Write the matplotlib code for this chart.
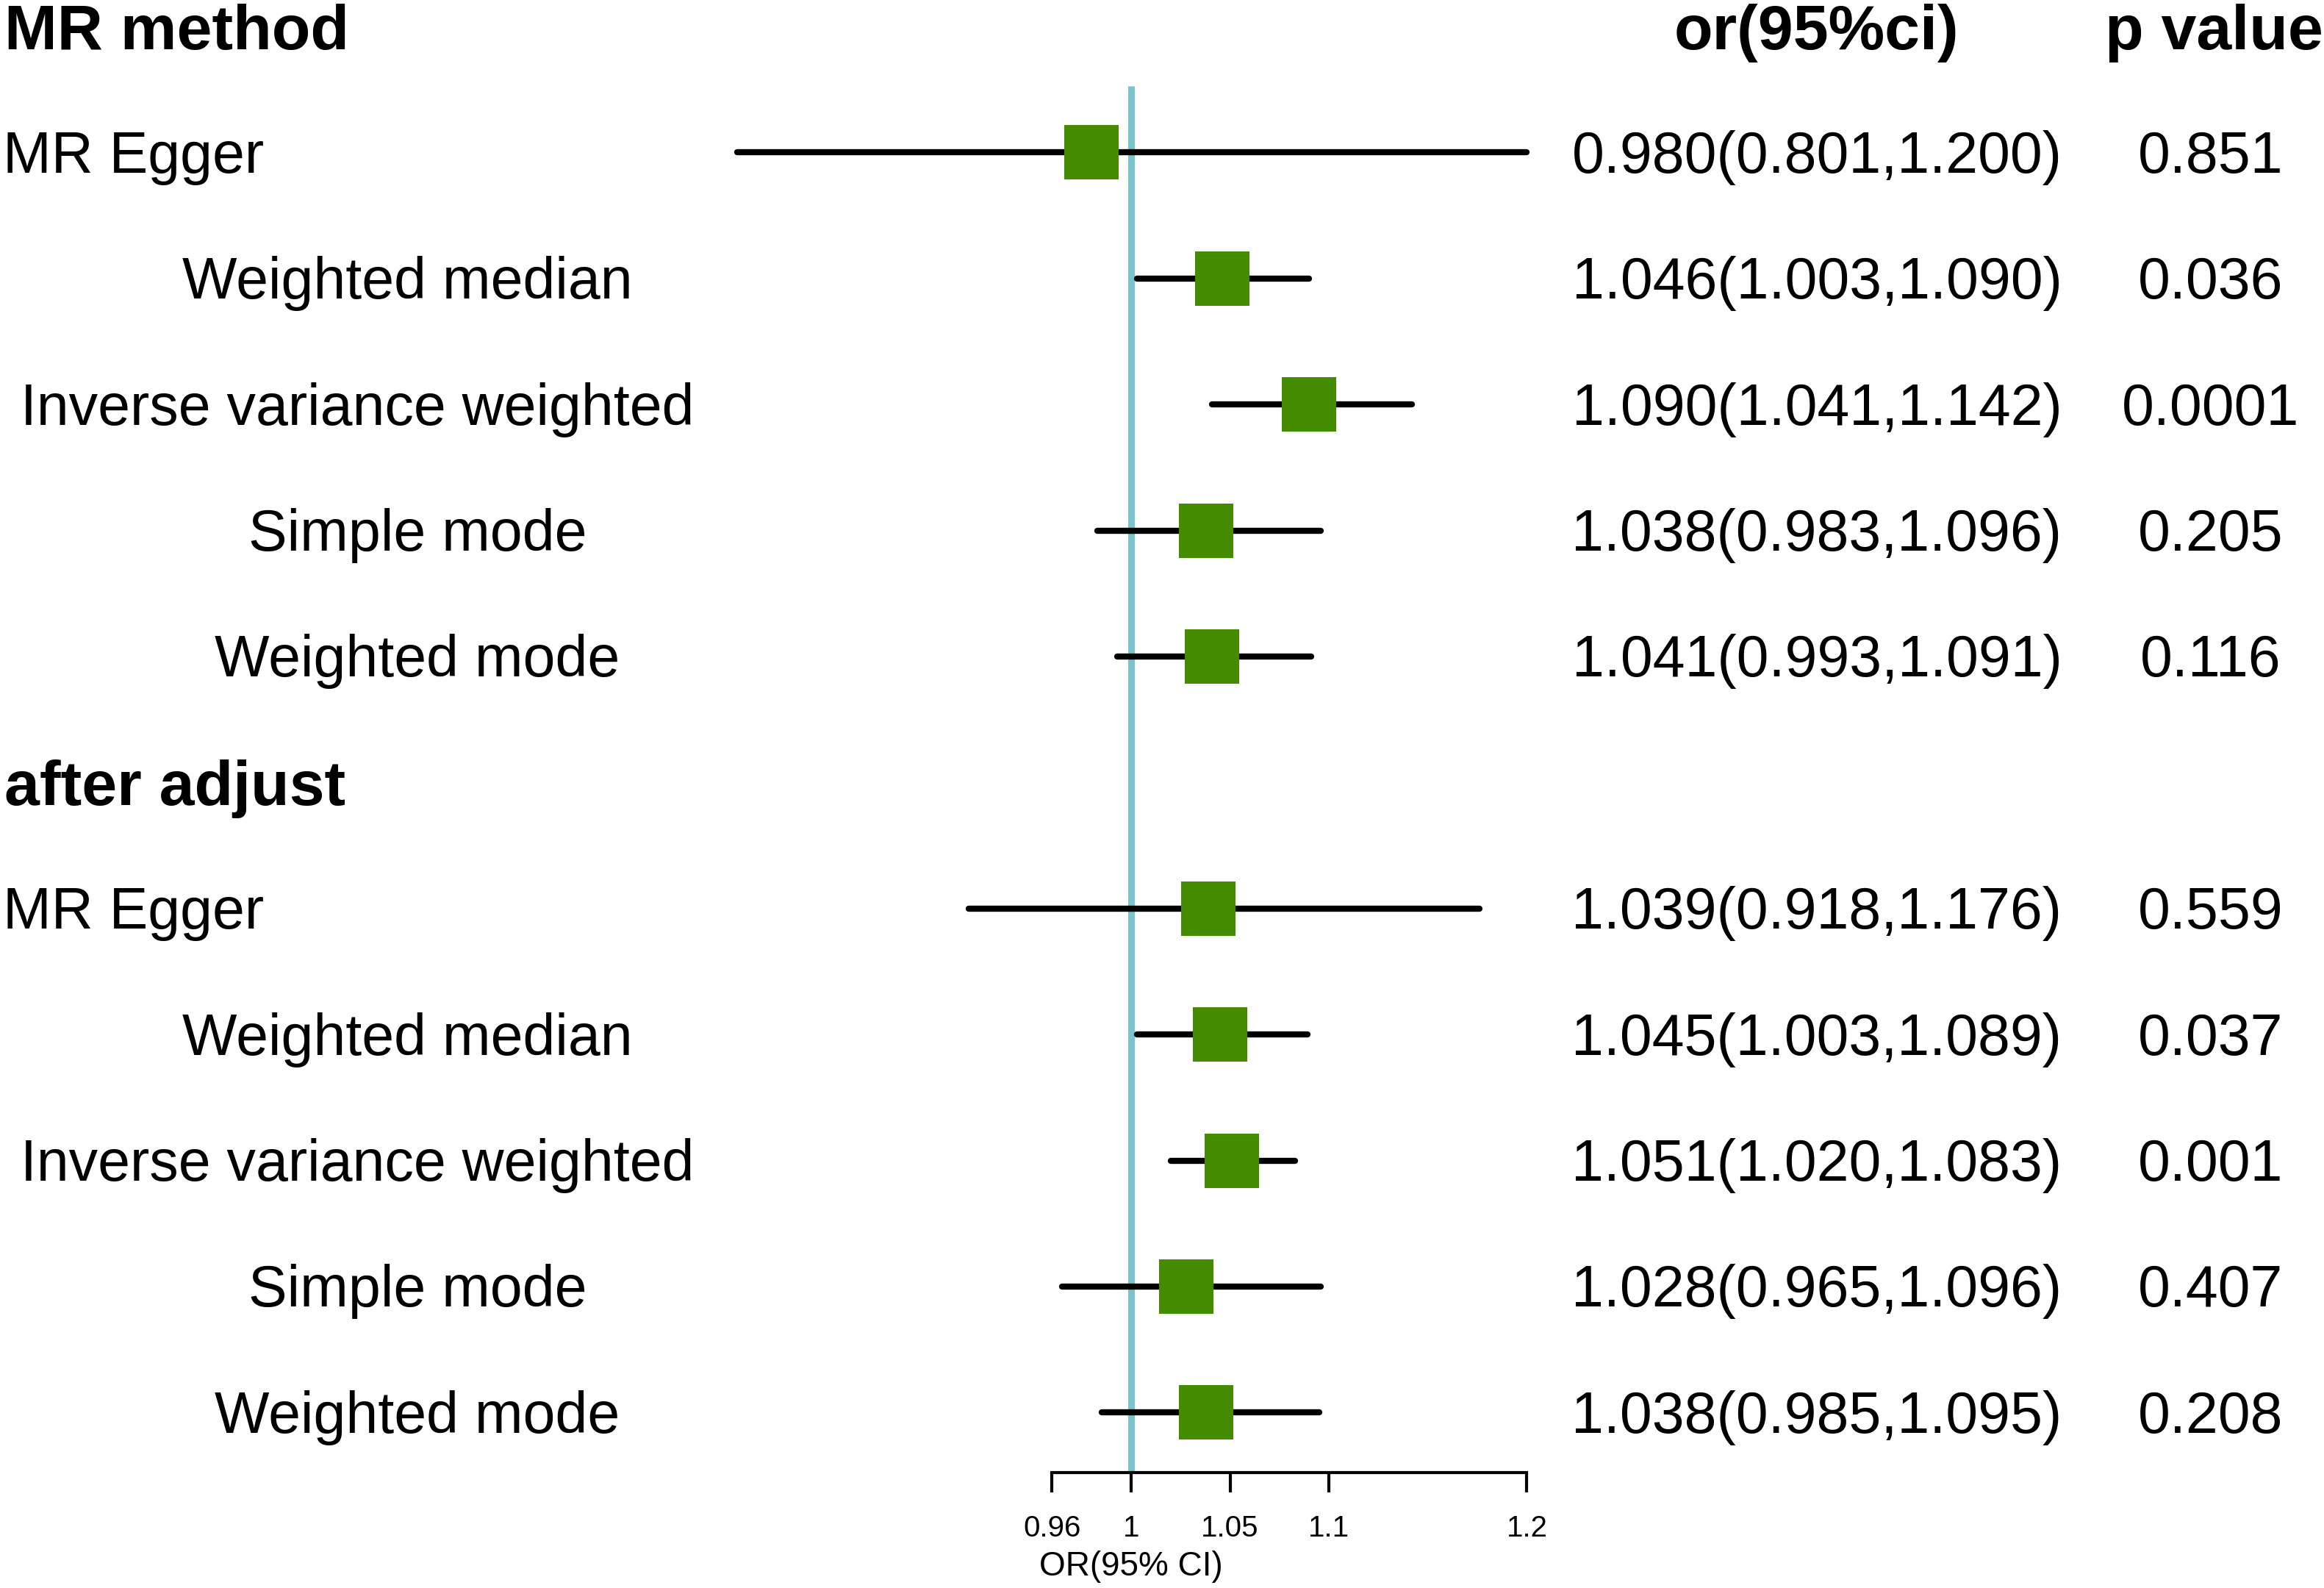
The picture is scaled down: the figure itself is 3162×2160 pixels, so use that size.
import numpy as np
import matplotlib
matplotlib.use('Agg')
import matplotlib.pyplot as plt
from matplotlib.transforms import blended_transform_factory

plt.rcParams['font.family'] = ['Liberation Sans', 'DejaVu Sans']

# datos del forest plot
metodos = ['MR Egger', 'Weighted median', 'Inverse variance weighted',
           'Simple mode', 'Weighted mode']

or_main = [0.980, 1.046, 1.090, 1.038, 1.041]
lo_main = [0.801, 1.003, 1.041, 0.983, 0.993]
hi_main = [1.200, 1.090, 1.142, 1.096, 1.091]
p_main = ['0.851', '0.036', '0.0001', '0.205', '0.116']

or_adj = [1.039, 1.045, 1.051, 1.028, 1.038]
lo_adj = [0.918, 1.003, 1.020, 0.965, 0.985]
hi_adj = [1.176, 1.089, 1.083, 1.096, 1.095]
p_adj = ['0.559', '0.037', '0.001', '0.407', '0.208']

ticks = [0.96, 1, 1.05, 1.1, 1.2]
tick_labels = ['0.96', '1', '1.05', '1.1', '1.2']

# posicion horizontal de cada etiqueta (fraccion de la figura)
label_pos = [('left', 4 / 3162), ('center', 554 / 3162), ('center', 486 / 3162),
             ('center', 568 / 3162), ('center', 568 / 3162)]

W, H = 3162, 2160
fig = plt.figure(figsize=(W / 200, H / 200), dpi=200)
ax = fig.add_axes([0, 0, 1, 1])

# escala: 1 -> 1539 px, 0.01 -> 26.92 px
px = 2692.0
ax.set_xlim(1 - 1539 / px, 1 + (W - 1539) / px)
row = 171.4
ax.set_ylim((H - 36) / row, -36 / row)

axis_y = (2003 - 36) / row
green = '#458B00'
blue = '#7AC5CD'

ax.vlines(1, 0.473, axis_y, color=blue, linewidth=3.3, zorder=1)

filas_main = np.arange(1, 6)
filas_adj = np.arange(7, 12)

trans = blended_transform_factory(ax.transAxes, ax.transData)

for filas, ors, los, his, ps in [(filas_main, or_main, lo_main, hi_main, p_main),
                                 (filas_adj, or_adj, lo_adj, hi_adj, p_adj)]:
    for y, o, l, h, p, name, (ha, xl) in zip(filas, ors, los, his, ps, metodos, label_pos):
        ax.plot([l, h], [y, y], color='black', linewidth=3.0,
                solid_capstyle='round', zorder=2)
        ax.plot(o, y, marker='s', markersize=26.3, color=green,
                markeredgewidth=0, zorder=3)
        ax.text(xl, y + 0.16, name, transform=trans, ha=ha, va='baseline', fontsize=28.4)
        ax.text(2472 / W, y + 0.16, f'{o:.3f}({l:.3f},{h:.3f})', transform=trans,
                ha='center', va='baseline', fontsize=28.4)
        ax.text(3008 / W, y + 0.16, p, transform=trans, ha='center', va='baseline',
                fontsize=28.4)

# encabezados
ax.text(6 / W, 0.18, 'MR method', transform=trans, ha='left', va='baseline',
        fontsize=31, fontweight='bold')
ax.text(6 / W, 6.18, 'after adjust', transform=trans, ha='left', va='baseline',
        fontsize=31, fontweight='bold')
ax.text(2471 / W, 0.18, 'or(95%ci)', transform=trans, ha='center', va='baseline',
        fontsize=31, fontweight='bold')
ax.text(3012 / W, 0.18, 'p value', transform=trans, ha='center', va='baseline',
        fontsize=31, fontweight='bold')

# eje x
for s in ['top', 'left', 'right']:
    ax.spines[s].set_visible(False)
ax.spines['bottom'].set_position(('data', axis_y))
ax.spines['bottom'].set_bounds(0.96, 1.2)
ax.spines['bottom'].set_linewidth(1.5)
ax.set_xticks(ticks)
ax.set_xticklabels(tick_labels)
ax.tick_params(axis='x', direction='out', length=9.7, width=1.5, pad=11, labelsize=14.5)
ax.set_yticks([])
ax.text(1.0, (2143 - 36) / row, 'OR(95% CI)', ha='center', va='baseline', fontsize=16.5)

plt.savefig('out.png', dpi=200, facecolor='white')
